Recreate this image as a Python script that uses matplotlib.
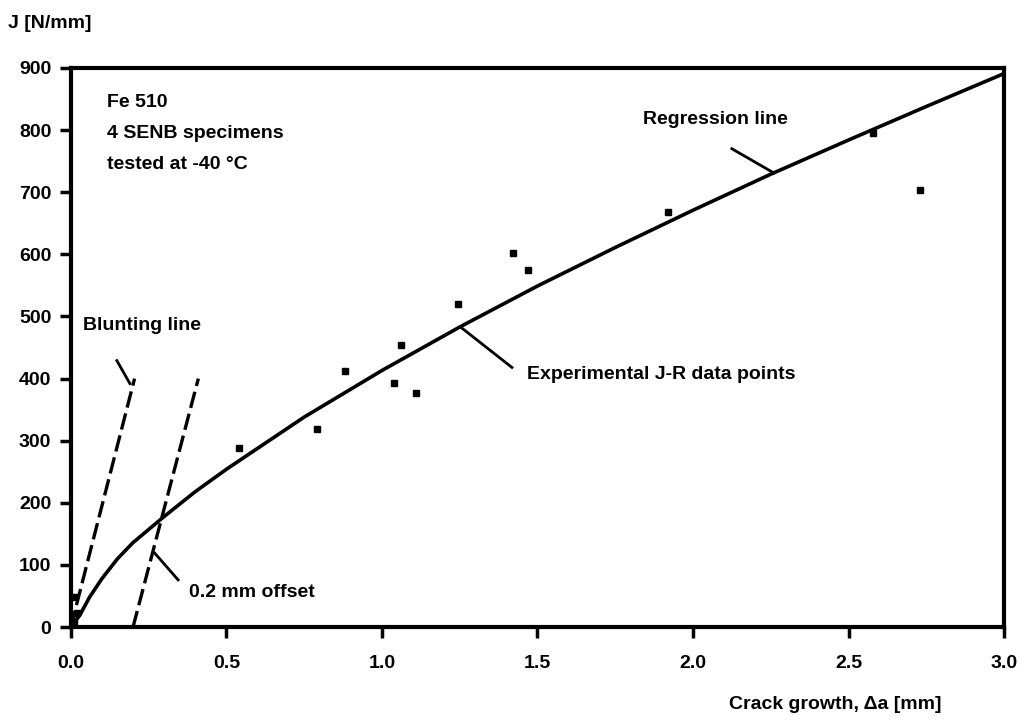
import matplotlib
matplotlib.use("Agg")
import matplotlib.pyplot as plt

plt.rcParams['font.family'] = ['Liberation Sans', 'DejaVu Sans']
plt.rcParams['font.weight'] = 'bold'

# Regression line
reg_da = [0.0, 0.03, 0.06, 0.1, 0.15, 0.2, 0.3, 0.4, 0.5, 0.75, 1.0, 1.25, 1.5, 1.75, 2.0, 2.25, 2.5, 2.75, 3.0]
reg_J = [0, 20, 48, 78, 110, 136, 178, 218, 254, 338, 413, 483, 549, 611, 671, 729, 784, 838, 891]

# Experimental J-R data points
pts_da = [0.01, 0.02, 0.01, 0.54, 0.79, 0.88, 1.04, 1.06, 1.11, 1.245, 1.42, 1.47, 1.92, 2.58, 2.73]
pts_J = [48, 22, 10, 288, 319, 412, 393, 454, 377, 520, 602, 575, 668, 795, 704]

# Blunting line and 0.2 mm offset line
blunt_da = [0.0, 0.205]
blunt_J = [0, 400]
offset_da = [0.2, 0.41]
offset_J = [0, 400]

x_ticks = [0.0, 0.5, 1.0, 1.5, 2.0, 2.5, 3.0]
x_ticklabels = ['0.0', '0.5', '1.0', '1.5', '2.0', '2.5', '3.0']
y_ticks = [0, 100, 200, 300, 400, 500, 600, 700, 800, 900]

fig = plt.figure(figsize=(10.26, 7.2), dpi=100)
ax = fig.add_axes([0.069, 0.129, 0.9096, 0.7766])

ax.plot(reg_da, reg_J, color='black', lw=2.6, solid_joinstyle='round')
ax.plot(blunt_da, blunt_J, color='black', lw=2.4, linestyle=(0, (5, 1.8)))
ax.plot(offset_da, offset_J, color='black', lw=2.4, linestyle=(0, (5, 1.8)))
ax.plot(pts_da, pts_J, linestyle='none', marker='s', markersize=4, color='black')

ax.set_xlim(0, 3.0)
ax.set_ylim(0, 900)
ax.set_xticks(x_ticks)
ax.set_xticklabels(x_ticklabels)
ax.set_yticks(y_ticks)
for s in ax.spines.values():
    s.set_linewidth(3)
ax.tick_params(axis='both', direction='out', length=8, width=2.5, labelsize=14, pad=6)
ax.tick_params(axis='x', pad=12)

# Axis titles
fig.text(0.008, 0.968, 'J [N/mm]', fontsize=14, fontweight='bold', ha='left', va='center')
fig.text(0.918, 0.022, 'Crack growth, Δa [mm]', fontsize=14, fontweight='bold', ha='right', va='center')

# Info text
ax.text(0.115, 845, 'Fe 510', fontsize=14, fontweight='bold', va='center')
ax.text(0.115, 795, '4 SENB specimens', fontsize=14, fontweight='bold', va='center')
ax.text(0.115, 745, 'tested at -40 °C', fontsize=14, fontweight='bold', va='center')

# Annotations with leader lines
ax.text(1.84, 817, 'Regression line', fontsize=14, fontweight='bold', va='center')
ax.plot([2.125, 2.26], [770, 731], color='black', lw=2)

ax.text(0.04, 485, 'Blunting line', fontsize=14, fontweight='bold', va='center')
ax.plot([0.148, 0.19], [429, 392], color='black', lw=2)

ax.text(1.465, 406, 'Experimental J-R data points', fontsize=14, fontweight='bold', va='center')
ax.plot([1.258, 1.418], [481, 418], color='black', lw=2)

ax.text(0.38, 56, '0.2 mm offset', fontsize=14, fontweight='bold', va='center')
ax.plot([0.27, 0.345], [119, 76], color='black', lw=2)

fig.savefig('out.png', dpi=100)
